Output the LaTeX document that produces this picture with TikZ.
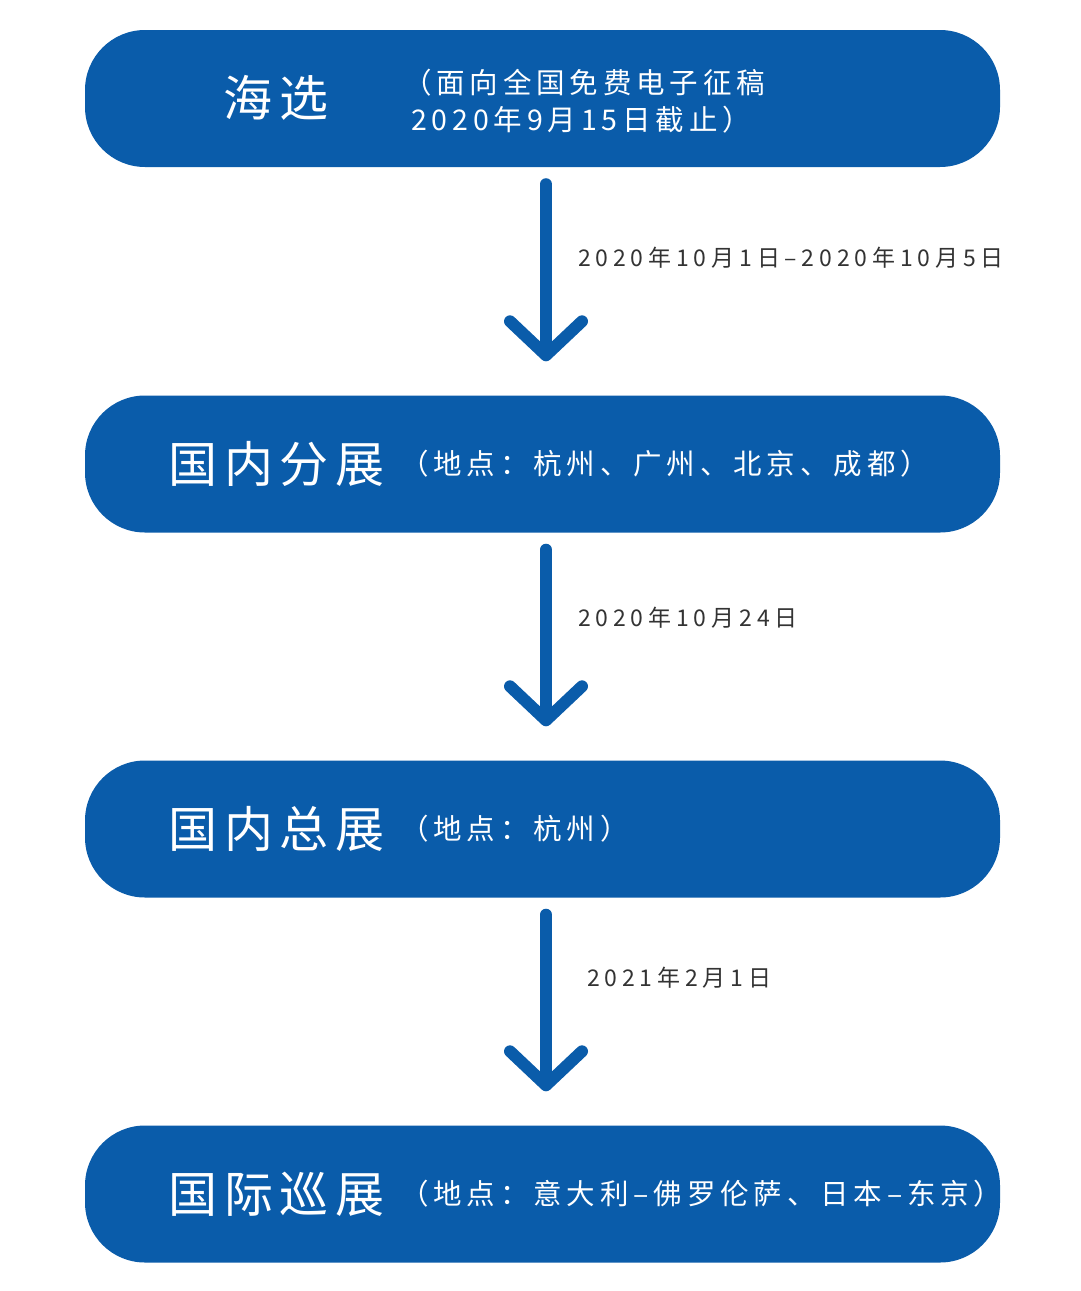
\documentclass[tikz,border=0pt]{standalone}
\usepackage{fontspec}
\setmainfont{Noto Sans CJK SC}
\newfontfamily\stagefont[LetterSpace=14]{Noto Sans CJK SC}
\newfontfamily\notefont[LetterSpace=17]{Noto Sans CJK SC}
\newfontfamily\datefont[LetterSpace=21]{Noto Sans CJK SC}
\usetikzlibrary{arrows.meta}
\definecolor{stageblue}{RGB}{10,92,170}
\definecolor{dategray}{RGB}{51,51,51}

\begin{document}
\begin{tikzpicture}[x=1pt, y=-1pt,
    stagebox/.style={fill=stageblue, rounded corners=60pt, minimum width=915pt, minimum height=137pt, inner sep=0pt},
    stagetitle/.style={anchor=west, inner sep=0pt, text=white, font=\stagefont\fontsize{49}{49}\selectfont},
    stagenote/.style={anchor=west, inner sep=0pt, text=white, align=left, font=\notefont\fontsize{28.5}{37}\selectfont},
    datelabel/.style={anchor=west, inner sep=0pt, text=dategray, font=\datefont\fontsize{23}{23}\selectfont},
    flow/.style={draw=stageblue, line width=12pt, line cap=round,
      -{Straight Barb[length=34pt, width=72pt, round]}, shorten <=17pt, shorten >=34pt}]

    % 画布范围
    \useasboundingbox (0,0) rectangle (1080,1291);

    % 四个阶段的圆角框
    \node[stagebox] (s1) at (542.5, 98.5) {};
    \node[stagebox] (s2) at (542.5, 464) {};
    \node[stagebox] (s3) at (542.5, 829) {};
    \node[stagebox] (s4) at (542.5, 1194) {};

    % 阶段名称
    \node[stagetitle] (t1) at (223, 98) {海选};
    \node[stagetitle] (t2) at (168, 464) {国内分展};
    \node[stagetitle] (t3) at (168, 829) {国内总展};
    \node[stagetitle] (t4) at (168, 1194) {国际巡展};

    % 阶段说明
    \node[stagenote] (n1) at (403, 101) {（面向全国免费电子征稿\\\hspace*{8pt}2020年9月15日截止）};
    \node[stagenote] (n2) at (400, 464) {（地点：杭州、广州、北京、成都）};
    \node[stagenote] (n3) at (400, 829) {（地点：杭州）};
    \node[stagenote] (n4) at (400, 1194) {（地点：意大利–佛罗伦萨、日本–东京）};

    % 阶段之间的箭头(略偏右于框的中线)
    \foreach \i/\j in {1/2, 2/3, 3/4} {
      \draw[flow] ([xshift=3.5pt]s\i.south) -- ([xshift=3.5pt]s\j.north);
    }

    % 时间标注
    \node[datelabel] (d1) at (578, 258) {2020年10月1日–2020年10月5日};
    \node[datelabel] (d2) at (578, 618) {2020年10月24日};
    \node[datelabel] (d3) at (587, 978) {2021年2月1日};

\end{tikzpicture}
\end{document}
